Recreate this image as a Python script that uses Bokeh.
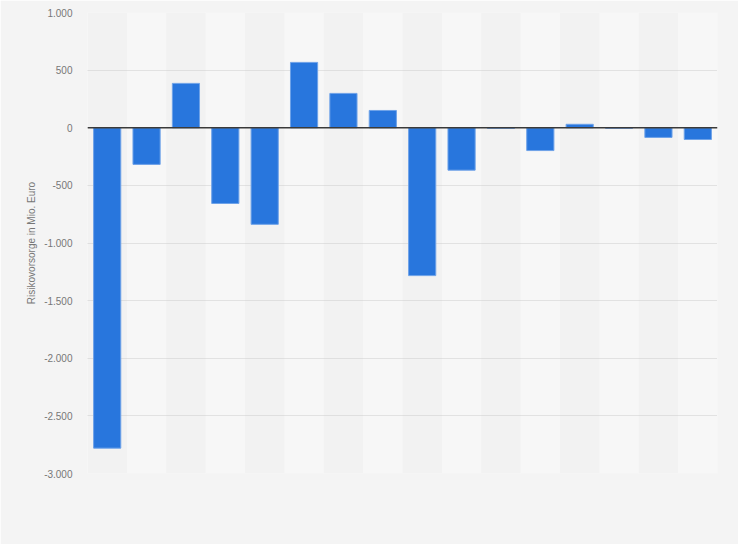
from bokeh.plotting import figure
from bokeh.models import Range1d, FixedTicker, Span
from bokeh.embed import file_html
from bokeh.resources import INLINE

# Data (Risikovorsorge in Mio. Euro), 16 periods
slots = list(range(1, 17))
values = [-2780, -318, 385, -657, -838, 567, 298, 150, -1283, -368, -5, -198, 30, -4, -84, -102]

y_ticks = [-3000, -2500, -2000, -1500, -1000, -500, 0, 500, 1000]
y_tick_labels = ["-3.000", "-2.500", "-2.000", "-1.500", "-1.000", "-500", "0", "500", "1.000"]
y_label = "Risikovorsorge in Mio. Euro"

p = figure(width=738, height=544, output_backend="svg", toolbar_location=None,
           x_range=Range1d(0.5, len(slots) + 0.5), y_range=Range1d(-3000, 1000),
           min_border_left=87, min_border_right=21, min_border_top=12, min_border_bottom=71)

p.background_fill_color = "#f2f2f2"
p.border_fill_color = "#f4f4f4"
p.outline_line_color = None

# alternating light column bands
band_x = [s for s in slots if s % 2 == 0]
bands = p.quad(left=[s - 0.5 for s in band_x], right=[s + 0.5 for s in band_x],
               bottom=-3000, top=1000, fill_color="#f7f7f7", line_color=None)
bands.level = "image"

p.vbar(x=slots, top=values, bottom=0, width=0.69,
       fill_color="#2876dd", line_color="#6ea2e8", line_width=1)

p.add_layout(Span(location=0, dimension="width", line_color="#3a3a3a", line_width=1.5))

p.xaxis.visible = False
p.xgrid.visible = False

p.yaxis.ticker = FixedTicker(ticks=y_ticks)
p.yaxis.major_label_overrides = dict(zip(y_ticks, y_tick_labels))
p.yaxis.axis_line_color = None
p.yaxis.major_tick_line_color = None
p.yaxis.minor_tick_line_color = None
p.yaxis.major_tick_out = 0
p.yaxis.major_label_standoff = 15
p.yaxis.major_label_text_font = "Liberation Sans"
p.yaxis.major_label_text_font_size = "10px"
p.yaxis.major_label_text_color = "#777777"
p.yaxis.axis_label = y_label
p.yaxis.axis_label_text_font = "Liberation Sans"
p.yaxis.axis_label_text_font_size = "10px"
p.yaxis.axis_label_text_font_style = "normal"
p.yaxis.axis_label_text_color = "#777777"
p.yaxis.axis_label_standoff = 4

p.ygrid.grid_line_color = "#cccccc"
p.ygrid.grid_line_dash = "1 1"
p.ygrid.grid_line_width = 1

html = file_html(p, INLINE)
html = html.replace("<body>", '<body style="background-color:#f4f4f4;">', 1)
open("out.html", "w").write(html)
